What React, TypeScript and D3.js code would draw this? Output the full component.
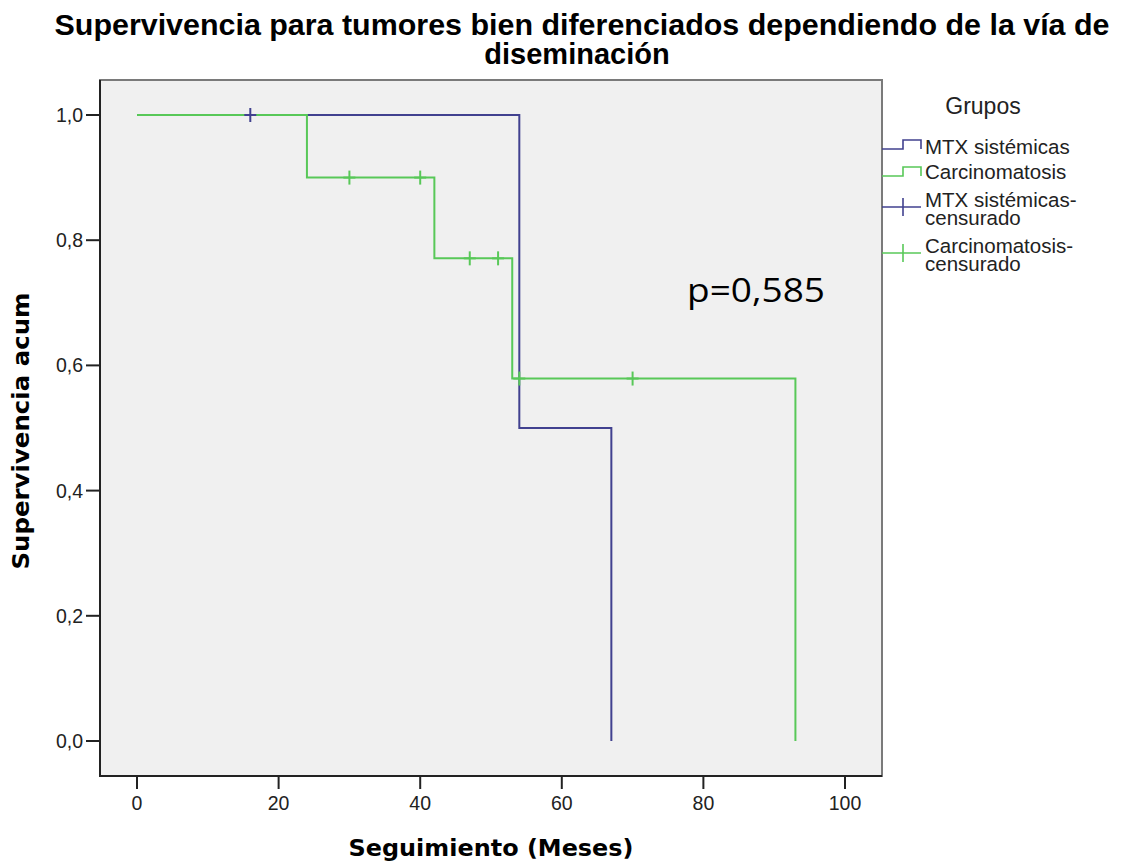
import React from "react";
import * as d3 from "d3";

const titleLines = ["Supervivencia para tumores bien diferenciados dependiendo de la vía de", "diseminación"];
const xTicks = [0, 20, 40, 60, 80, 100];
const yTicks = [0, 0.2, 0.4, 0.6, 0.8, 1.0];

const mtxTimes = [0, 54, 67];
const mtxSurv = [1.0, 0.5, 0.0];
const mtxCensored = [16];

const carcTimes = [0, 24, 42, 53, 93];
const carcSurv = [1.0, 0.9, 0.771, 0.579, 0.0];
const carcCensored = [30, 40, 47, 51, 54, 70];

const legendLabels = [["MTX sistémicas"], ["Carcinomatosis"], ["MTX sistémicas-", "censurado"], ["Carcinomatosis-", "censurado"]];

const BLUE = "#41418f";
const GREEN = "#58c858";

const W = 1123, H = 865;
const L = 100, R = 882, T = 80, B = 776;

function survAt(times: number[], surv: number[], t: number) {
  let s = surv[0];
  for (let i = 0; i < times.length; i++) if (times[i] <= t) s = surv[i];
  return s;
}

export default function App() {
  const x = d3.scaleLinear().domain([-5.23, 105.23]).range([L, R]);
  const y = d3.scaleLinear().domain([-0.0559, 1.0559]).range([B, T]);
  const line = d3.line<[number, number]>().x(d => x(d[0])).y(d => y(d[1])).curve(d3.curveStepAfter);
  const mtxPts = mtxTimes.map((t, i) => [t, mtxSurv[i]] as [number, number]);
  const carcPts = carcTimes.map((t, i) => [t, carcSurv[i]] as [number, number]);
  const cross = (cx: number, cy: number, color: string, key: string) => (
    <g key={key} stroke={color} strokeWidth={2}>
      <line x1={cx - 6} x2={cx + 6} y1={cy} y2={cy} />
      <line x1={cx} x2={cx} y1={cy - 7} y2={cy + 7} />
    </g>
  );
  const sans = "'Liberation Sans', Arial, sans-serif";
  const legendY = [149, 176, 207, 253];
  const legendTextY = [[154], [179], [207, 225], [253, 271]];
  return (
    <div>
      <style>{`body{margin:0}`}</style>
      <svg width={W} height={H} style={{ display: "block", background: "#fff" }}>
        {/* title */}
        <text x={582} y={35} textAnchor="middle" fontFamily={sans} fontWeight="bold" fontSize={29} textLength={1055} lengthAdjust="spacingAndGlyphs">{titleLines[0]}</text>
        <text x={577} y={64} textAnchor="middle" fontFamily={sans} fontWeight="bold" fontSize={29}>{titleLines[1]}</text>

        {/* plot area */}
        <rect x={L} y={T} width={R - L} height={B - T} fill="#f0f0f0" stroke="#7a7a7a" strokeWidth={2} />
        <line x1={L} x2={L} y1={T} y2={B + 1} stroke="#222" strokeWidth={2} />
        <line x1={L - 1} x2={R} y1={B} y2={B} stroke="#222" strokeWidth={2} />

        {/* y ticks */}
        {yTicks.map(v => (
          <g key={"y" + v}>
            <line x1={L - 14} x2={L} y1={y(v)} y2={y(v)} stroke="#222" strokeWidth={2} />
            <text x={83} y={y(v) + 7} textAnchor="end" fontFamily={sans} fontSize={19.5} fill="#222">{v.toFixed(1).replace(".", ",")}</text>
          </g>
        ))}
        {/* x ticks */}
        {xTicks.map(v => (
          <g key={"x" + v}>
            <line x1={x(v)} x2={x(v)} y1={B} y2={B + 13} stroke="#222" strokeWidth={2} />
            <text x={x(v)} y={810} textAnchor="middle" fontFamily={sans} fontSize={19.5} fill="#222">{v}</text>
          </g>
        ))}

        {/* axis labels */}
        <text x={491} y={856} textAnchor="middle" fontFamily="'DejaVu Sans', sans-serif" fontWeight="bold" fontSize={23.5} textLength={285} lengthAdjust="spacingAndGlyphs">Seguimiento (Meses)</text>
        <text transform="translate(29,431) rotate(-90)" textAnchor="middle" fontFamily="'DejaVu Sans', sans-serif" fontWeight="bold" fontSize={23} textLength={277} lengthAdjust="spacingAndGlyphs">Supervivencia acum</text>

        {/* curves */}
        <path d={line(mtxPts) || ""} fill="none" stroke={BLUE} strokeWidth={2} />
        <path d={line(carcPts) || ""} fill="none" stroke={GREEN} strokeWidth={2} />
        {mtxCensored.map((t, i) => cross(x(t), y(survAt(mtxTimes, mtxSurv, t)), BLUE, "mc" + i))}
        {carcCensored.map((t, i) => cross(x(t), y(survAt(carcTimes, carcSurv, t)), GREEN, "cc" + i))}

        {/* p value */}
        <text x={687} y={302} fontFamily="'Open Sans', 'Noto Sans', sans-serif" fontSize={33} textLength={138} lengthAdjust="spacingAndGlyphs" fill="#000">p=0,585</text>

        {/* legend */}
        <text x={983} y={114} textAnchor="middle" fontFamily={sans} fontSize={23} fill="#222">Grupos</text>
        {legendLabels.map((lines, i) => {
          const ly = legendY[i];
          const color = i % 2 === 0 ? BLUE : GREEN;
          const sym = i < 2
            ? <path d={`M${R},${ly} H903 V${ly - 9} H921 V${ly}`} fill="none" stroke={color} strokeWidth={1.6} />
            : <g stroke={color} strokeWidth={1.6}>
                <line x1={R} x2={921} y1={ly} y2={ly} />
                <line x1={903} x2={903} y1={ly - 9} y2={ly + 9} />
              </g>;
          return (
            <g key={"lg" + i}>
              {sym}
              {lines.map((s, j) => (
                <text key={j} x={925} y={legendTextY[i][j]} fontFamily={sans} fontSize={20.5} fill="#222">{s}</text>
              ))}
            </g>
          );
        })}
      </svg>
    </div>
  );
}
